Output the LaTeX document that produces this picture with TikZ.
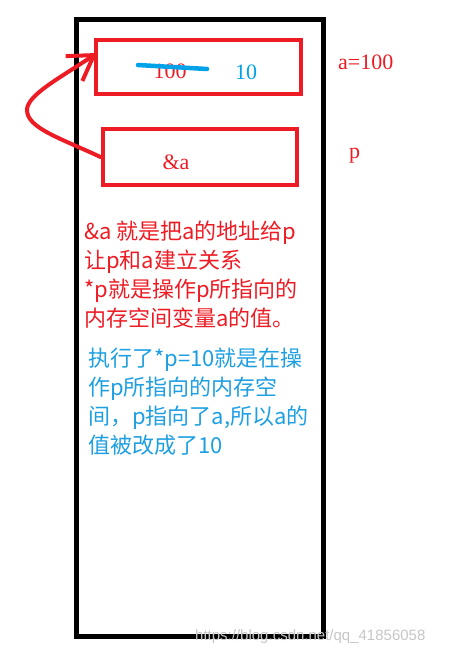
\documentclass[tikz,border=0pt]{standalone}
\usepackage{fontspec}
\setmainfont{Liberation Serif}
\newfontfamily\cjk{Noto Sans CJK SC}
\newfontfamily\wmfont{Liberation Sans}
\usepackage{xcolor}
\usetikzlibrary{arrows.meta,positioning,calc}
\definecolor{pred}{HTML}{ED1C24}
\definecolor{pblue}{HTML}{00A2E8}
\definecolor{tblue}{HTML}{1E9FE2}

\begin{document}
\begin{tikzpicture}[x=1pt,y=-1pt,
    redbox/.style={draw=pred, line width=4pt, inner sep=0pt},
    redtxt/.style={text=pred, inner sep=0pt, font=\cjk\fontsize{22}{26}\selectfont},
    bluetxt/.style={text=tblue, inner sep=0pt, font=\cjk\fontsize{22}{26}\selectfont},
    label/.style={inner sep=0pt, anchor=base, font=\fontsize{22}{26}\selectfont}]
    \useasboundingbox (0,0) rectangle (449,654);

    % memory frame
    \draw[line width=5pt] (76.5,19.5) rectangle (323.5,636.5);

    % variable a
    \node[redbox, minimum width=205pt, minimum height=53.5pt] (boxa) at (198,66.75) {};
    \node[label, text=pred] (old) at (170,78) {100};
    \node[label, text=pblue] (new) at (246,79) {10};
    \coordinate (sl) at (138,65);
    \coordinate (sr) at (207,69);
    \draw[pblue, line width=4.5pt, line cap=round] (sl) -- (sr);
    \node[label, text=pred, anchor=base west] (namea) at (338,69) {a=100};

    % pointer p
    \node[redbox, minimum width=194pt, minimum height=55.7pt] (boxp) at (199.5,157) {};
    \node[label, text=pred] (addr) at (176,169.5) {\&a};
    \node[label, text=pred, anchor=base west] (namep) at (349,158) {p};

    % p points to a
    \coordinate (tip) at (97,53);
    \draw[pred, line width=4pt, line cap=round, -{Straight Barb[length=24pt,width=30pt]}]
        (boxp.west) .. controls (60,138) and (27,128) .. (27,110)
        .. controls (27,95) and (60,78) .. (tip);

    % notes
    \foreach \t [count=\i] in {{\&a 就是把a的地址给p},{让p和a建立关系},{*p就是操作p所指向的},{内存空间变量a的值。}}
        \node[redtxt, anchor=base west] (r\i) at (84,210+29*\i) {\t};
    \foreach \t [count=\i] in {{执行了*p=10就是在操},{作p所指向的内存空},{间，p指向了a,所以a的},{值被改成了10}}
        \node[bluetxt, anchor=base west] (b\i) at (88,337+29*\i) {\t};

    % watermark
    \node[inner sep=0pt, anchor=base west, text=gray!45, font=\wmfont\fontsize{15}{18}\selectfont] (wm) at (195,640) {https://blog.csdn.net/qq\_41856058};
\end{tikzpicture}
\end{document}
